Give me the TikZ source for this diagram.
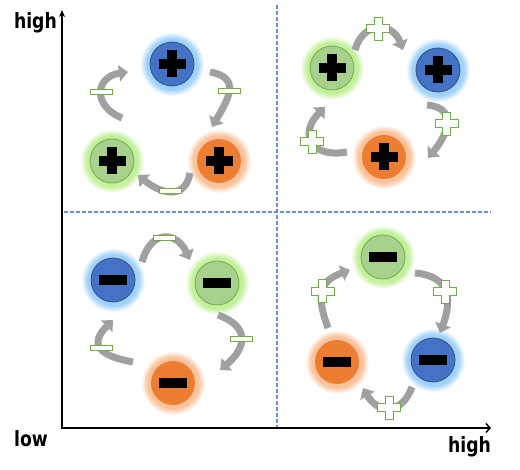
\documentclass[tikz,border=0pt]{standalone}
\usepackage{fontspec}
\usetikzlibrary{arrows.meta,shadows,fadings}
\newfontfamily\axisfont{DejaVu Sans}[FakeStretch=0.82]
\definecolor{ballblue}{RGB}{68,114,196}
\definecolor{blueedge}{RGB}{47,82,143}
\definecolor{blueglow}{RGB}{160,210,250}
\definecolor{ballgreen}{RGB}{169,209,142}
\definecolor{greenedge}{RGB}{112,173,71}
\definecolor{greenglow}{RGB}{195,240,155}
\definecolor{ballorange}{RGB}{237,125,49}
\definecolor{orangeglow}{RGB}{250,195,155}
\definecolor{markgreen}{RGB}{112,173,71}
\definecolor{arrowgray}{RGB}{160,160,160}
\definecolor{dashblue}{RGB}{100,140,215}
\begin{document}
\begin{tikzpicture}[x=1pt,y=1pt,
    ball/.style={circle,minimum size=44pt,inner sep=0pt,line width=0.8pt},
    blueball/.style={ball,fill=ballblue,draw=blueedge,
        circular glow={fill=blueglow,shadow scale=1.45,path fading={circle with fuzzy edge 20 percent}}},
    greenball/.style={ball,fill=ballgreen,draw=greenedge,
        circular glow={fill=greenglow,shadow scale=1.45,path fading={circle with fuzzy edge 20 percent}}},
    orangeball/.style={ball,fill=ballorange,
        circular glow={fill=orangeglow,shadow scale=1.45,path fading={circle with fuzzy edge 20 percent}}},
    sgplus/.style={path picture={
        \fill[black] ([shift={(-13.5pt,-4.75pt)}]path picture bounding box.center) rectangle ++(27pt,9.5pt);
        \fill[black] ([shift={(-4.75pt,-13.5pt)}]path picture bounding box.center) rectangle ++(9.5pt,27pt);}},
    sgminus/.style={path picture={
        \fill[black] ([shift={(-14pt,-4.75pt)}]path picture bounding box.center) rectangle ++(28pt,9.5pt);}},
    cyc/.style={line width=7pt,draw=arrowgray,-{Triangle[width=16pt,length=9pt]}},
    minusbar/.style={draw=markgreen,fill=white,line width=0.9pt,minimum width=22pt,minimum height=5pt,inner sep=0pt},
    pluscross/.pic={\filldraw[draw=markgreen,fill=white,line width=0.9pt]
        (-4,-11.5) -- (4,-11.5) -- (4,-4) -- (11.5,-4) -- (11.5,4) -- (4,4) -- (4,11.5)
        -- (-4,11.5) -- (-4,4) -- (-11.5,4) -- (-11.5,-4) -- (-4,-4) -- cycle;},
    quad/.style={draw=dashblue,line width=1.3pt,dash pattern=on 4pt off 2pt},
    axisline/.style={line width=1.5pt,line cap=rect},
    lbl/.style={font=\axisfont\bfseries\fontsize{21}{21}\selectfont,inner sep=0pt}]
\useasboundingbox (0,0) rectangle (520,470);

\draw[quad] (277,465) -- (277,42);
\draw[quad] (64,258) -- (491,258);
\draw[axisline,{Stealth[length=7pt,width=6pt]}-{Straight Barb[length=4pt,width=9pt]}] (62,460) |- (491,42);

\node[lbl,anchor=base east] (yhigh) at (57,441) {high};
\node[lbl,anchor=base west] (low) at (14,23) {low};
\node[lbl,anchor=base west] (xhigh) at (448,17) {high};

\node[blueball,sgplus] (B1) at (172,406) {};
\node[greenball,sgplus] (G1) at (112,309) {};
\node[orangeball,sgplus] (O1) at (219,309) {};
\draw[cyc] ([shift={(10,43)}]G1.center) to[out=158,in=188,looseness=1.8] node[minusbar]{} ([shift={(-44,-8)}]B1.center);
\draw[cyc] ([shift={(38,-8)}]B1.center) to[out=-10,in=60,looseness=1.5] node[minusbar]{} ([shift={(-7,34)}]O1.center);
\draw[cyc] ([shift={(-29,-12)}]O1.center) to[out=-100,in=-40,looseness=1.4] node[minusbar]{} ([shift={(26,-14)}]G1.center);

\node[greenball,sgplus] (G2) at (332,402) {};
\node[blueball,sgplus] (B2) at (438,400) {};
\node[orangeball,sgplus] (O2) at (384,313) {};
\draw[cyc] ([shift={(23,18)}]G2.center) to[out=75,in=110,looseness=1.6] coordinate (p1) ([shift={(-35,20)}]B2.center);
\draw[cyc] ([shift={(-11,-35)}]B2.center) to[out=-5,in=50,looseness=1.5] coordinate (p2) ([shift={(44,-1)}]O2.center);
\draw[cyc] ([shift={(-37,5)}]O2.center) to[out=190,in=225,looseness=1.9] coordinate (p3) ([shift={(-7,-39)}]G2.center);
\pic at (p1) {pluscross};
\pic at (p2) {pluscross};
\pic at (p3) {pluscross};

\node[blueball,sgminus] (B3) at (113,190) {};
\node[greenball,sgminus] (G3) at (217,187) {};
\node[orangeball,sgminus] (O3) at (173,87) {};
\draw[cyc] ([shift={(29,18)}]B3.center) to[out=75,in=115,looseness=1.75] node[minusbar]{} ([shift={(-27,23)}]G3.center);
\draw[cyc] ([shift={(1,-32)}]G3.center) to[out=-20,in=40,looseness=1.6] node[minusbar]{} ([shift={(47,13)}]O3.center);
\draw[cyc] ([shift={(-40,21)}]O3.center) to[out=170,in=225,looseness=1.9] node[minusbar]{} ([shift={(0,-40)}]B3.center);

\node[greenball,sgminus] (G4) at (383,213) {};
\node[blueball,sgminus] (B4) at (433,110) {};
\node[orangeball,sgminus] (O4) at (337,108) {};
\draw[cyc] ([shift={(32,-16)}]G4.center) to[out=-5,in=70,looseness=1.4] coordinate (p4) ([shift={(7,27)}]B4.center);
\draw[cyc] ([shift={(-21,-27)}]B4.center) to[out=-110,in=-60,looseness=1.56] coordinate (p5) ([shift={(26,-26)}]O4.center);
\draw[cyc] ([shift={(-9,34)}]O4.center) to[out=110,in=200,looseness=1.4] coordinate (p6) ([shift={(-33,-13)}]G4.center);
\pic at (p4) {pluscross};
\pic at (p5) {pluscross};
\pic at (p6) {pluscross};
\end{tikzpicture}
\end{document}
